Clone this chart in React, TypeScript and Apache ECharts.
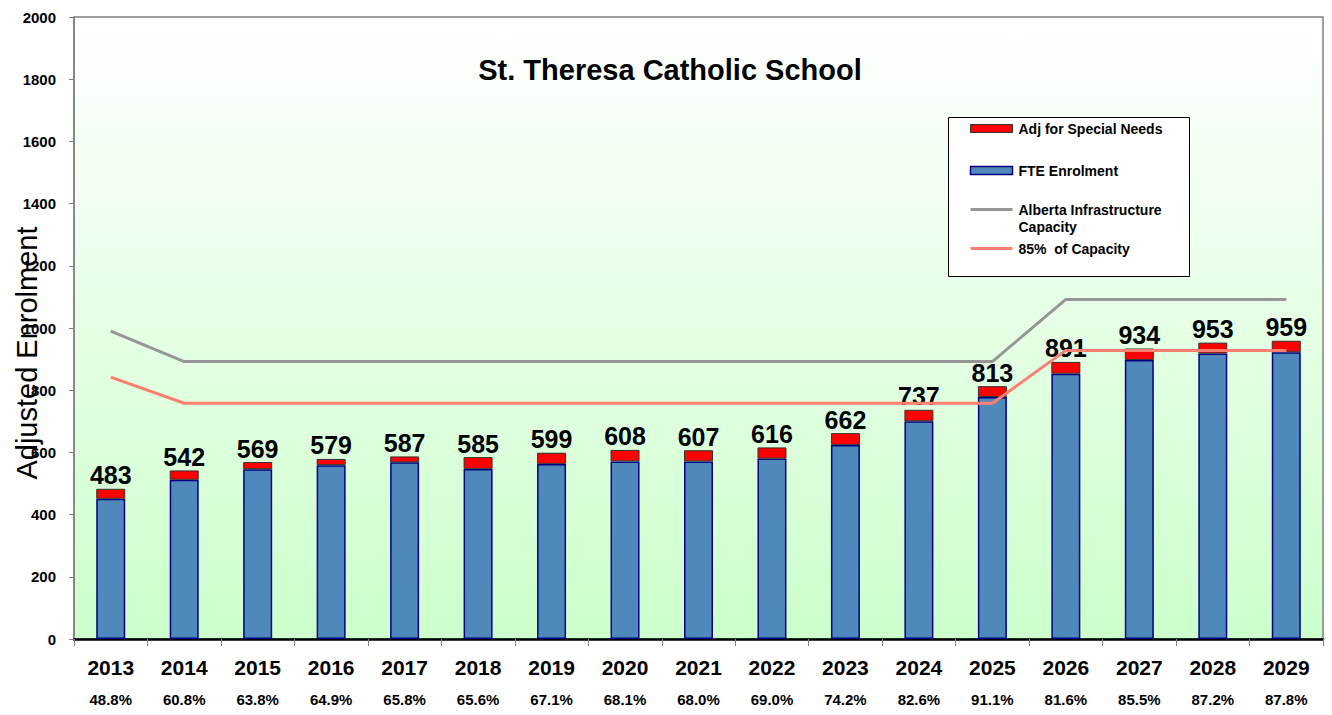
import React, { useEffect, useRef } from "react";
import * as echarts from "echarts";

const years = ["2013","2014","2015","2016","2017","2018","2019","2020","2021","2022","2023","2024","2025","2026","2027","2028","2029"];
const fteEnrolment = [451, 512, 546, 559, 568, 547, 563, 571, 571, 580, 624, 700, 778, 853, 897, 918, 922];
const adjSpecialNeeds = [32, 30, 23, 20, 19, 38, 36, 37, 36, 36, 38, 37, 35, 38, 37, 35, 37];
const capacity = [990, 892, 892, 892, 892, 892, 892, 892, 892, 892, 892, 892, 892, 1092, 1092, 1092, 1092];
const capacity85 = [842, 758, 758, 758, 758, 758, 758, 758, 758, 758, 758, 758, 758, 928, 928, 928, 928];
const utilization = ["48.8%","60.8%","63.8%","64.9%","65.8%","65.6%","67.1%","68.1%","68.0%","69.0%","74.2%","82.6%","91.1%","81.6%","85.5%","87.2%","87.8%"];
const yTicks = { min: 0, max: 2000, interval: 200 };

const FONT = "'Liberation Sans', Arial, sans-serif";

export default function App() {
  const ref = useRef<HTMLDivElement>(null);
  useEffect(() => {
    if (!ref.current) return;
    const chart = echarts.init(ref.current, undefined, { renderer: "svg" });
    const totals = fteEnrolment.map((v, i) => v + adjSpecialNeeds[i]);
    const legendX = 948, legendY = 117;
    const lf = `bold 14px ${FONT}`;
    chart.setOption({
      animation: false,
      backgroundColor: "#ffffff",
      textStyle: { fontFamily: FONT },
      title: {
        text: "St. Theresa Catholic School",
        left: 665,
        top: 50,
        textAlign: "center",
        textStyle: { fontFamily: FONT, fontSize: 29, fontWeight: "bold", color: "#000" },
      },
      grid: {
        left: 74, right: 9, top: 17, bottom: 76,
        containLabel: false,
        outerBoundsMode: "none",
        show: true,
        borderColor: "#808080",
        borderWidth: 1.5,
        backgroundColor: new echarts.graphic.LinearGradient(0, 0, 0, 1, [
          { offset: 0, color: "#ffffff" },
          { offset: 1, color: "#ccffcc" },
        ]),
      },
      xAxis: {
        type: "category",
        data: years,
        axisLine: { lineStyle: { color: "#000", width: 2.5 } },
        axisTick: { show: true, length: 7, lineStyle: { color: "#808080", width: 1 } },
        axisLabel: {
          margin: 13,
          interval: 0,
          formatter: (v: string, i: number) => `{y|${v}}\n{p|${utilization[i]}}`,
          rich: {
            y: { fontFamily: FONT, fontSize: 21, fontWeight: "bold", color: "#000", lineHeight: 30 },
            p: { fontFamily: FONT, fontSize: 15, fontWeight: "bold", color: "#000", lineHeight: 34 },
          },
        },
      },
      yAxis: {
        type: "value",
        min: yTicks.min,
        max: yTicks.max,
        interval: yTicks.interval,
        axisLine: { show: true, lineStyle: { color: "#808080", width: 1.5 } },
        axisTick: { show: true, length: 5, lineStyle: { color: "#808080" } },
        splitLine: { show: false },
        axisLabel: {
          margin: 18,
          fontFamily: FONT,
          fontSize: 15,
          fontWeight: "bold",
          color: "#000",
          formatter: (v: number) => String(v),
        },
      },
      series: [
        {
          name: "FTE Enrolment",
          type: "bar",
          stack: "enrol",
          barWidth: 29,
          data: fteEnrolment,
          itemStyle: { color: "#4f88bb", borderColor: "#000080", borderWidth: 1.5 },
          z: 2,
        },
        {
          name: "Adj for Special Needs",
          type: "bar",
          stack: "enrol",
          barWidth: 29,
          data: adjSpecialNeeds,
          itemStyle: { color: "#ff0000", borderColor: "#333333", borderWidth: 1 },
          label: {
            show: true,
            position: "top",
            distance: 1,
            formatter: (p: any) => String(totals[p.dataIndex]),
            fontFamily: FONT,
            fontSize: 25,
            fontWeight: "bold",
            color: "#000",
          },
          z: 2,
        },
        {
          name: "Alberta Infrastructure Capacity",
          type: "line",
          data: capacity,
          symbol: "none",
          lineStyle: { color: "#969696", width: 3 },
          z: 3,
        },
        {
          name: "85% of Capacity",
          type: "line",
          data: capacity85,
          symbol: "none",
          lineStyle: { color: "#ff8070", width: 3 },
          z: 3,
        },
      ],
      graphic: [
        {
          type: "text",
          x: 27,
          y: 353,
          rotation: Math.PI / 2,
          z: 10,
          style: { text: "Adjusted Enrolment", font: `29px ${FONT}`, fill: "#000", align: "center", verticalAlign: "middle" },
        },
        {
          type: "group",
          left: legendX,
          top: legendY,
          z: 10,
          children: [
            { type: "rect", shape: { x: 0, y: 0, width: 241, height: 159 }, style: { fill: "#ffffff", stroke: "#000", lineWidth: 1 } },
            { type: "rect", shape: { x: 22, y: 7, width: 42, height: 8 }, style: { fill: "#ff0000", stroke: "#333", lineWidth: 1 } },
            { type: "text", x: 70, y: 11, style: { text: "Adj for Special Needs", font: lf, fill: "#000", verticalAlign: "middle" } },
            { type: "rect", shape: { x: 22, y: 49, width: 42, height: 8 }, style: { fill: "#4f88bb", stroke: "#000080", lineWidth: 1.5 } },
            { type: "text", x: 70, y: 53, style: { text: "FTE Enrolment", font: lf, fill: "#000", verticalAlign: "middle" } },
            { type: "line", shape: { x1: 22, y1: 92, x2: 64, y2: 92 }, style: { stroke: "#969696", lineWidth: 3 } },
            { type: "text", x: 70, y: 92, style: { text: "Alberta Infrastructure", font: lf, fill: "#000", verticalAlign: "middle" } },
            { type: "text", x: 70, y: 109, style: { text: "Capacity", font: lf, fill: "#000", verticalAlign: "middle" } },
            { type: "line", shape: { x1: 22, y1: 131, x2: 64, y2: 131 }, style: { stroke: "#ff8070", lineWidth: 3 } },
            { type: "text", x: 70, y: 131, style: { text: "85%  of Capacity", font: lf, fill: "#000", verticalAlign: "middle" } },
          ],
        },
      ],
    });
    return () => chart.dispose();
  }, []);
  return <div ref={ref} style={{ width: 1332, height: 715, position: "absolute", left: 0, top: 0 }} />;
}
